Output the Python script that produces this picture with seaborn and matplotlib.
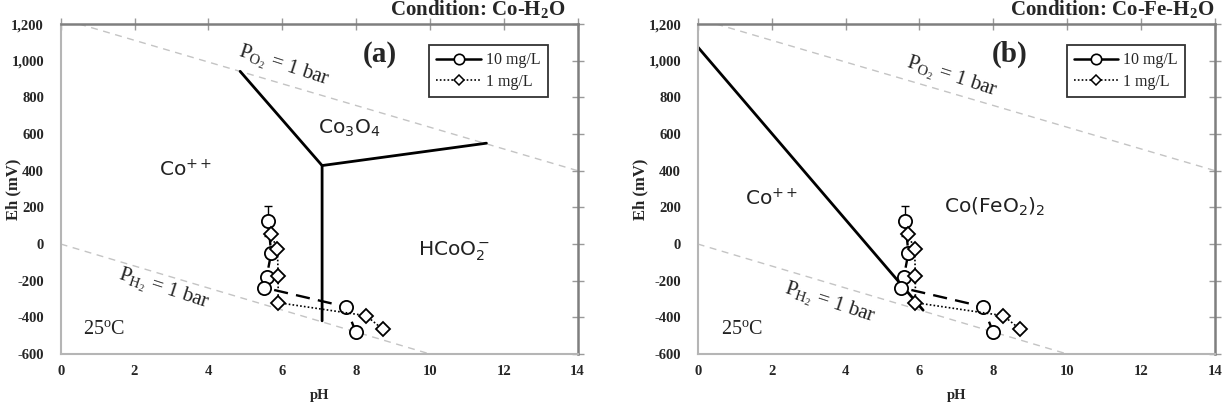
import matplotlib
matplotlib.use("Agg")
import matplotlib.pyplot as plt
import seaborn as sns
from matplotlib.lines import Line2D
from matplotlib.ticker import FuncFormatter

# ---------------- data ----------------
ph_10 = [5.62, 5.70, 5.58, 5.51, 7.72, 7.99]
eh_10 = [125, -50, -178, -238, -342, -478]
err_10 = [80, 0, 0, 0, 0, 0]

ph_1 = [5.69, 5.87, 5.89, 5.89, 8.27, 8.72]
eh_1 = [53, -27, -175, -320, -391, -464]

# water stability lines (end points)
po2_ph = [0.5, 14.0]
po2_eh = [1200, 400]
ph2_ph = [0.0, 10.0]
ph2_eh = [0, -600]

# phase boundaries, panel (a)
a_b1_ph = [4.86, 7.08, 7.08]
a_b1_eh = [942, 428, -419]
a_b2_ph = [7.08, 11.53]
a_b2_eh = [428, 550]
# phase boundary, panel (b)
b_b1_ph = [0.0, 6.10]
b_b1_eh = [1075, -361]

x_ticks = [0, 2, 4, 6, 8, 10, 12, 14]
y_ticks = [-600, -400, -200, 0, 200, 400, 600, 800, 1000, 1200]

titles = ["Condition: Co-H$_\\mathbf{2}$O", "Condition: Co-Fe-H$_\\mathbf{2}$O"]
panel_tags = ["(a)", "(b)"]
legend_labels = ["10 mg/L", "1 mg/L"]

# ---------------- style ----------------
sns.set_theme(style="white")
plt.rcParams["font.family"] = ["Liberation Serif", "DejaVu Serif"]
plt.rcParams["mathtext.fontset"] = "custom"
plt.rcParams["mathtext.rm"] = "Liberation Serif"
plt.rcParams["mathtext.it"] = "Liberation Serif:italic"
plt.rcParams["mathtext.bf"] = "Liberation Serif:bold"
plt.rcParams["mathtext.sf"] = "DejaVu Sans"

fig = plt.figure(figsize=(12.23, 4.05), dpi=100)
ax_a = fig.add_axes([0.0496, 0.1259, 0.4227, 0.8148])
ax_b = fig.add_axes([0.5705, 0.1259, 0.4230, 0.8148])

SANS = 14.5
SERIF_LBL = 15
TXT = "#222222"


def style_axes(ax):
    ax.set_xlim(0, 14)
    ax.set_ylim(-600, 1200)
    ax.set_xticks(x_ticks)
    ax.set_yticks(y_ticks)
    ax.yaxis.set_major_formatter(FuncFormatter(lambda v, p: f"{int(v):,}"))
    ax.tick_params(axis="both", which="major", direction="inout", length=8,
                   width=1, color="#9a9a9a", labelsize=10.5, top=True, right=True,
                   labeltop=False, labelright=False)
    ax.tick_params(axis="x", pad=4)
    ax.tick_params(axis="y", pad=8)
    for lbl in ax.get_xticklabels() + ax.get_yticklabels():
        lbl.set_fontweight("bold")
    for side in ["left", "bottom"]:
        ax.spines[side].set_color("#b5b5b5")
        ax.spines[side].set_linewidth(1.5)
    for side in ["top", "right"]:
        ax.spines[side].set_color("#7f7f7f")
        ax.spines[side].set_linewidth(1.8)
    ax.set_xlabel("pH", fontsize=10.5, fontweight="bold")
    ax.set_ylabel("Eh (mV)", fontsize=12, fontweight="bold")
    ax.xaxis.set_label_coords(0.5, -0.105)


def draw_common(ax):
    sns.lineplot(x=po2_ph, y=po2_eh, ax=ax, color="#c4c4c4", lw=1.0,
                 linestyle=(0, (5, 4)), sort=False, estimator=None)
    sns.lineplot(x=ph2_ph, y=ph2_eh, ax=ax, color="#c4c4c4", lw=1.0,
                 linestyle=(0, (5, 4)), sort=False, estimator=None)


def draw_data(ax):
    ax.errorbar([ph_10[0]], [eh_10[0]], yerr=[err_10[0]], fmt="none",
                ecolor="black", elinewidth=1.0, capsize=3, capthick=1.0,
                zorder=2.5)
    sns.lineplot(x=ph_10, y=eh_10, ax=ax, color="black", lw=1.7,
                 linestyle=(5.1, (6, 3.5)), marker="o", markersize=9.5,
                 markerfacecolor="white", markeredgecolor="black",
                 markeredgewidth=1.3, sort=False, estimator=None, zorder=3)
    sns.lineplot(x=ph_1, y=eh_1, ax=ax, color="black", lw=1.2,
                 linestyle=(0, (1, 1.3)), marker="D", markersize=7,
                 markerfacecolor="white", markeredgecolor="black",
                 markeredgewidth=1.3, sort=False, estimator=None, zorder=4)


def draw_legend(ax):
    handles = [
        Line2D([], [], color="black", lw=1.8, marker="o", markersize=7.5,
               markerfacecolor="white", markeredgecolor="black", markeredgewidth=1.2),
        Line2D([], [], color="black", lw=1.2, linestyle=(0, (1, 1.3)), marker="D",
               markersize=5, markerfacecolor="white", markeredgecolor="black",
               markeredgewidth=1.1),
    ]
    leg = ax.legend(handles, legend_labels, loc="upper right",
                    bbox_to_anchor=(0.942, 0.936), borderaxespad=0,
                    frameon=True, fancybox=False, edgecolor="black",
                    fontsize=11.5, handlelength=2.8, handletextpad=0.3,
                    labelspacing=0.35, borderpad=0.45)
    leg.get_frame().set_linewidth(1.3)
    leg.get_frame().set_facecolor("white")


for ax in (ax_a, ax_b):
    style_axes(ax)
    draw_common(ax)

ax_a.yaxis.set_label_coords(-0.0768, 0.5)
ax_b.yaxis.set_label_coords(-0.096, 0.5)

# panel (a) boundaries
sns.lineplot(x=a_b1_ph, y=a_b1_eh, ax=ax_a, color="black", lw=2.0,
             sort=False, estimator=None)
sns.lineplot(x=a_b2_ph, y=a_b2_eh, ax=ax_a, color="black", lw=2.0,
             sort=False, estimator=None)
# panel (b) boundary
sns.lineplot(x=b_b1_ph, y=b_b1_eh, ax=ax_b, color="black", lw=2.0,
             sort=False, estimator=None)

for ax in (ax_a, ax_b):
    draw_data(ax)
    draw_legend(ax)

# ---------------- labels, panel (a) ----------------
ax_a.text(7.82, 630, r"$\mathsf{Co_3O_4}$", fontsize=SANS, ha="center", va="center", color=TXT)
ax_a.text(3.37, 400, r"$\mathsf{Co^{++}}$", fontsize=SANS, ha="center", va="center", color=TXT)
ax_a.text(10.65, -41, r"$\mathsf{HCoO_2^-}$", fontsize=SANS, ha="center", va="center", color=TXT)
ax_a.text(6.05, 966, r"$\mathrm{P_{O_2}}$ = 1 bar", fontsize=SERIF_LBL, rotation=-18,
          ha="center", va="center", rotation_mode="anchor", color=TXT)
ax_a.text(2.79, -251, r"$\mathrm{P_{H_2}}$ = 1 bar", fontsize=SERIF_LBL, rotation=-18,
          ha="center", va="center", rotation_mode="anchor", color=TXT)
ax_a.text(1.18, -469, r"25$^{\mathrm{o}}$C", fontsize=14.5, ha="center", va="center", color=TXT)
ax_a.text(8.63, 1035, panel_tags[0], fontsize=21, fontweight="bold", ha="center", va="center")

# ---------------- labels, panel (b) ----------------
ax_b.text(1.98, 241, r"$\mathsf{Co^{++}}$", fontsize=SANS, ha="center", va="center", color=TXT)
ax_b.text(8.04, 204, r"$\mathsf{Co(FeO_2)_2}$", fontsize=SANS, ha="center", va="center", color=TXT)
ax_b.text(6.86, 905, r"$\mathrm{P_{O_2}}$ = 1 bar", fontsize=SERIF_LBL, rotation=-18,
          ha="center", va="center", rotation_mode="anchor", color=TXT)
ax_b.text(3.57, -327, r"$\mathrm{P_{H_2}}$ = 1 bar", fontsize=SERIF_LBL, rotation=-18,
          ha="center", va="center", rotation_mode="anchor", color=TXT)
ax_b.text(1.19, -469, r"25$^{\mathrm{o}}$C", fontsize=14.5, ha="center", va="center", color=TXT)
ax_b.text(8.45, 1035, panel_tags[1], fontsize=21, fontweight="bold", ha="center", va="center")

# ---------------- titles ----------------
fig.text(0.462, 0.963, titles[0], fontsize=15, fontweight="bold", ha="right", va="baseline")
fig.text(0.993, 0.963, titles[1], fontsize=15, fontweight="bold", ha="right", va="baseline")

fig.savefig("out.png", dpi=100)
